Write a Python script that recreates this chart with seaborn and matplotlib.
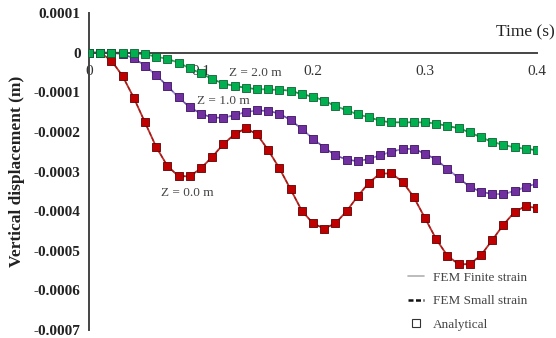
import numpy as np
import pandas as pd
import matplotlib
matplotlib.use("Agg")
import matplotlib.pyplot as plt
from matplotlib.lines import Line2D
import seaborn as sns

# time steps (s)
time = [round(0.01 * i, 2) for i in range(41)]

# vertical displacement (x1e-4 m)
z00 = [0, 0, -0.20, -0.59, -1.14, -1.76, -2.38, -2.86, -3.12, -3.12,
       -2.92, -2.63, -2.31, -2.06, -1.91, -2.06, -2.46, -2.92, -3.45, -3.99,
       -4.31, -4.44, -4.31, -4.00, -3.62, -3.28, -3.05, -3.05, -3.26, -3.65,
       -4.18, -4.71, -5.13, -5.34, -5.34, -5.11, -4.73, -4.34, -4.02, -3.87,
       -3.93]
z10 = [0, 0, 0, -0.04, -0.14, -0.33, -0.57, -0.84, -1.13, -1.38,
       -1.54, -1.64, -1.64, -1.58, -1.50, -1.46, -1.47, -1.54, -1.70, -1.93,
       -2.17, -2.40, -2.59, -2.70, -2.74, -2.68, -2.59, -2.50, -2.43, -2.43,
       -2.55, -2.70, -2.94, -3.16, -3.39, -3.51, -3.57, -3.57, -3.49, -3.39,
       -3.30]
z20 = [0, 0, 0, 0, -0.01, -0.04, -0.10, -0.16, -0.25, -0.40,
       -0.52, -0.67, -0.78, -0.84, -0.89, -0.92, -0.93, -0.94, -0.96, -1.05,
       -1.11, -1.21, -1.35, -1.45, -1.56, -1.63, -1.72, -1.76, -1.76, -1.76,
       -1.76, -1.79, -1.85, -1.91, -2.01, -2.14, -2.25, -2.33, -2.39, -2.43,
       -2.46]

depths = ["Z = 0.0 m", "Z = 1.0 m", "Z = 2.0 m"]
xticks = [0, 0.1, 0.2, 0.3, 0.4]
xtick_labels = ["0", "0.1", "0.2", "0.3", "0.4"]
yticks = [0.0001, 0, -0.0001, -0.0002, -0.0003, -0.0004, -0.0005, -0.0006, -0.0007]
ytick_labels = ["0.0001", "0", "-0.0001", "-0.0002", "-0.0003", "-0.0004",
                "-0.0005", "-0.0006", "-0.0007"]

frames = []
for name, vals in zip(depths, [z00, z10, z20]):
    frames.append(pd.DataFrame({"t": time, "u": np.array(vals) * 1e-4, "z": name}))
df = pd.concat(frames, ignore_index=True)

sns.set_style("white")
plt.rcParams["font.family"] = ["Liberation Serif", "DejaVu Serif"]

line_cols = {"Z = 0.0 m": "#c0302a", "Z = 1.0 m": "#9f88cf", "Z = 2.0 m": "#3aa860"}
dash_cols = {"Z = 0.0 m": "#9a1a1a", "Z = 1.0 m": "#6a4aa0", "Z = 2.0 m": "#1f8a45"}
mark_cols = {"Z = 0.0 m": "#c00000", "Z = 1.0 m": "#7030a0", "Z = 2.0 m": "#00b050"}
edge_cols = {"Z = 0.0 m": "#600000", "Z = 1.0 m": "#3a1060", "Z = 2.0 m": "#106030"}

fig = plt.figure(figsize=(5.56, 3.38), dpi=100)
ax = fig.add_axes([0.160, 0.0237, 0.806, 0.9378])

# FEM finite strain (solid) and small strain (dashed)
sns.lineplot(data=df, x="t", y="u", hue="z", palette=line_cols, lw=1.3,
             legend=False, ax=ax, zorder=2)
sns.lineplot(data=df, x="t", y="u", hue="z", palette=dash_cols, lw=0.9,
             linestyle=(0, (3, 2)), legend=False, ax=ax, zorder=2)
# analytical
for name in depths:
    sub = df[df["z"] == name]
    sns.scatterplot(data=sub, x="t", y="u", marker="s", s=30,
                    color=mark_cols[name], edgecolor=edge_cols[name],
                    linewidth=0.6, legend=False, ax=ax, zorder=3)

ax.set_xlim(0, 0.4)
ax.set_ylim(-0.0007, 0.0001)
ax.spines["bottom"].set_position(("data", 0))
for s in ["top", "right"]:
    ax.spines[s].set_visible(False)
for s in ["bottom", "left"]:
    ax.spines[s].set_color("#444444")
    ax.spines[s].set_linewidth(1.4)

ax.set_xticks(xticks)
ax.set_xticklabels(xtick_labels, fontsize=11, color="#333333")
ax.set_yticks(yticks)
ax.set_yticklabels(ytick_labels, fontsize=11, fontweight="bold", color="#222222")
ax.tick_params(axis="x", direction="in", length=4, width=1.2, color="#444444", pad=9)
ax.tick_params(axis="y", direction="in", length=4, width=1.2, color="#444444", pad=6)
ax.set_xlabel("")
ax.set_ylabel("Vertical displacement (m)", fontsize=12.5, fontweight="bold",
              color="#222222", labelpad=6)

fig.text(0.997, 0.905, "Time (s)", ha="right", va="center", fontsize=12.5,
         color="#222222")

ax.text(0.125, -0.000052, "Z = 2.0 m", fontsize=9.5, color="#444444", va="center")
ax.text(0.096, -0.000123, "Z = 1.0 m", fontsize=9.5, color="#444444", va="center")
ax.text(0.064, -0.000355, "Z = 0.0 m", fontsize=9.5, color="#444444", va="center")

handles = [
    Line2D([], [], color="#b0b0b0", lw=1.2),
    Line2D([], [], color="#111111", lw=1.8, linestyle=(0, (2, 1))),
    Line2D([], [], marker="s", color="none", markerfacecolor="white",
           markeredgecolor="#333333", markersize=6, markeredgewidth=0.8),
]
leg = ax.legend(handles, ["FEM Finite strain", "FEM Small strain", "Analytical"],
                loc="lower left", bbox_to_anchor=(0.685, -0.04), frameon=False,
                fontsize=9.5, handlelength=1.2, handletextpad=0.7,
                labelspacing=0.85)
for t in leg.get_texts():
    t.set_color("#444444")

fig.savefig("out.png", dpi=100)
